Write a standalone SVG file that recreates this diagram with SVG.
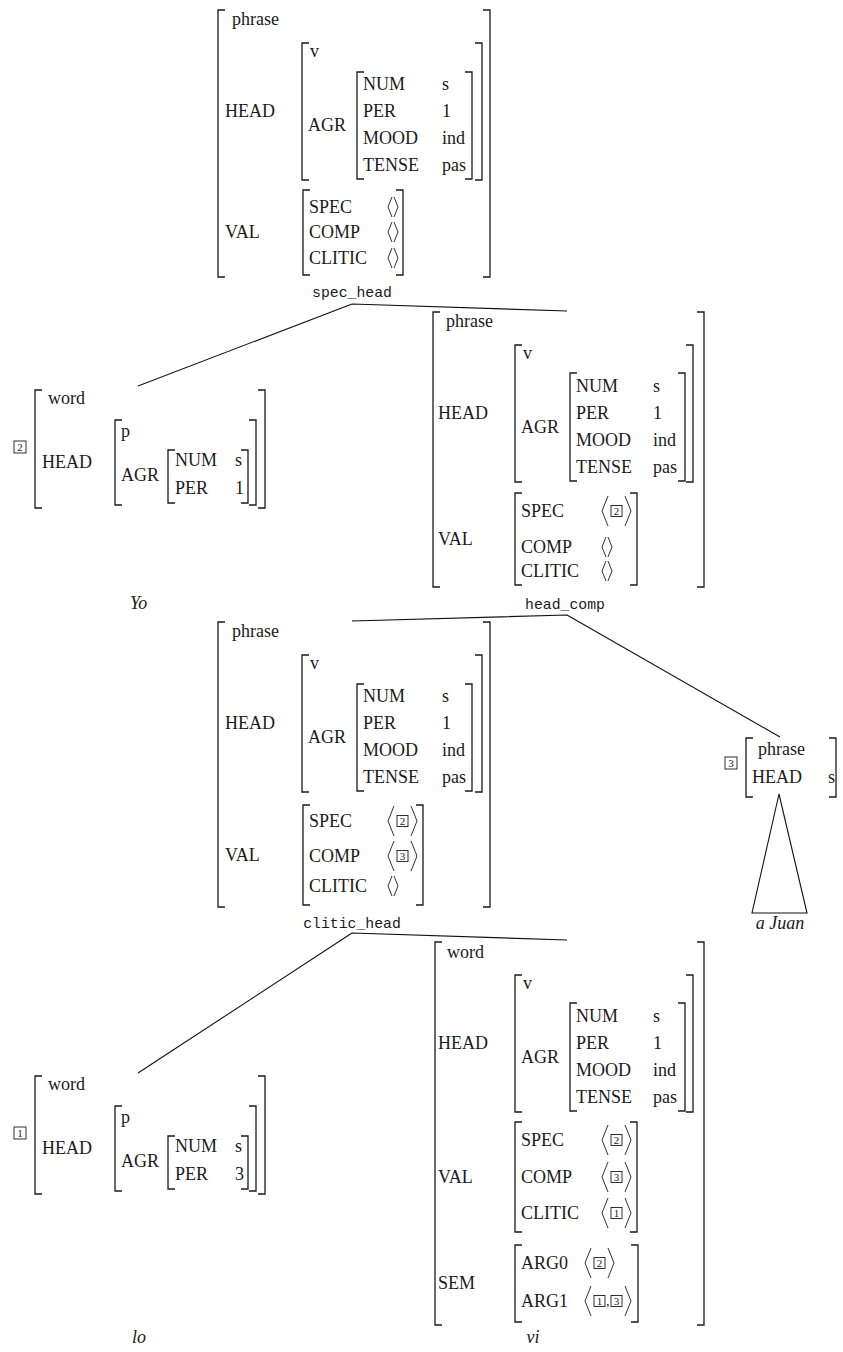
<svg xmlns="http://www.w3.org/2000/svg" xmlns:xlink="http://www.w3.org/1999/xlink" width="843" height="1352" viewBox="0 0 843 1352">
<style>
.t{font-family:'Liberation Serif','Times New Roman','DejaVu Serif',serif;font-size:18px;fill:#1a1a1a}
.it{font-family:'Liberation Serif','Times New Roman','DejaVu Serif',serif;font-size:18px;font-style:italic;fill:#1a1a1a}
.tt{font-family:'Liberation Mono','DejaVu Sans Mono',monospace;font-size:14.8px;fill:#1a1a1a;text-anchor:middle}
.d{font-family:'Liberation Serif','Times New Roman','DejaVu Serif',serif;font-size:11px;fill:#1a1a1a;text-anchor:middle}
.br{fill:none;stroke:#1a1a1a;stroke-width:1.3}
.ln{fill:none;stroke:#111;stroke-width:1.1}
.bxs{fill:none;stroke:#1a1a1a;stroke-width:0.9}
</style>
<defs>
<path id="sa" d="M4 -10 L0 0 L4 10 M6 -10 L10 0 L6 10" fill="none" stroke="#1a1a1a" stroke-width="0.9"/>
<path id="bl" d="M6 -15 L0 0 L6 15" fill="none" stroke="#1a1a1a" stroke-width="0.9"/>
<path id="brr" d="M0 -15 L6 0 L0 15" fill="none" stroke="#1a1a1a" stroke-width="0.9"/>
<rect id="bx" x="0" y="-5.5" width="11" height="11" fill="none" stroke="#1a1a1a" stroke-width="0.9"/>
</defs>

<g id="connectors">
<path class="ln" d="M352,304 L138,386 M352,304 L567,311"/>
<path class="ln" d="M567,615 L352,621 M567,615 L780,737"/>
<path class="ln" d="M352,933 L138,1073 M352,933 L567,940"/>
</g>

<g id="n_root">
<path class="br" d="M225,10H218V277H225 M483,10H490V277H483 M309,43H302V180H309 M475,43H482V180H475 M364,72H357V179H364 M465,72H472V179H465 M310,190H303V275H310 M396,190H403V275H396"/>
<text class="t" x="232" y="25">phrase</text>
<text class="t" x="225" y="117">HEAD</text>
<text class="t" x="310" y="57">v</text>
<text class="t" x="308" y="131">AGR</text>
<text class="t" x="363" y="90">NUM</text><text class="t" x="442" y="90">s</text>
<text class="t" x="363" y="117">PER</text><text class="t" x="442" y="117">1</text>
<text class="t" x="363" y="144">MOOD</text><text class="t" x="442" y="144">ind</text>
<text class="t" x="363" y="171">TENSE</text><text class="t" x="442" y="171">pas</text>
<text class="t" x="225" y="238">VAL</text>
<text class="t" x="309" y="213">SPEC</text><use xlink:href="#sa" x="388" y="207"/>
<text class="t" x="309" y="238">COMP</text><use xlink:href="#sa" x="388" y="232"/>
<text class="t" x="309" y="264">CLITIC</text><use xlink:href="#sa" x="388" y="258"/>
<text class="tt" x="352" y="297">spec_head</text>
</g>

<g id="n_yo">
<rect class="bxs" x="14" y="441" width="12" height="12"/><text class="d" x="20" y="451">2</text>
<path class="br" d="M42,390H35V508H42 M258,390H265V508H258 M122,420H115V505H122 M249,420H256V505H249 M175,450H168V503H175 M241,450H248V503H241"/>
<text class="t" x="48" y="404">word</text>
<text class="t" x="42" y="468">HEAD</text>
<text class="t" x="121" y="437">p</text>
<text class="t" x="121" y="481">AGR</text>
<text class="t" x="175" y="466">NUM</text><text class="t" x="235" y="466">s</text>
<text class="t" x="175" y="494">PER</text><text class="t" x="235" y="494">1</text>
<text class="it" x="130" y="609">Yo</text>
</g>

<g id="n_vp1">
<path class="br" d="M440,312H433V587H440 M697,312H704V587H697 M522,345H515V482H522 M686,345H693V482H686 M577,373H570V481H577 M678,373H685V481H678 M522,493H515V585H522 M630,493H637V585H630"/>
<text class="t" x="446" y="327">phrase</text>
<text class="t" x="438" y="419">HEAD</text>
<text class="t" x="523" y="359">v</text>
<text class="t" x="521" y="433">AGR</text>
<text class="t" x="576" y="392">NUM</text><text class="t" x="653" y="392">s</text>
<text class="t" x="576" y="419">PER</text><text class="t" x="653" y="419">1</text>
<text class="t" x="576" y="446">MOOD</text><text class="t" x="653" y="446">ind</text>
<text class="t" x="576" y="473">TENSE</text><text class="t" x="653" y="473">pas</text>
<text class="t" x="438" y="545">VAL</text>
<text class="t" x="521" y="517">SPEC</text>
<use xlink:href="#bl" x="602" y="511"/><use xlink:href="#bx" x="611" y="511"/><text class="d" x="616.5" y="515">2</text><use xlink:href="#brr" x="625" y="511"/>
<text class="t" x="521" y="553">COMP</text><use xlink:href="#sa" x="602" y="547"/>
<text class="t" x="521" y="577">CLITIC</text><use xlink:href="#sa" x="602" y="571"/>
<text class="tt" x="565" y="609">head_comp</text>
</g>

<g id="n_vp2">
<path class="br" d="M225,622H218V907H225 M483,622H490V907H483 M309,655H302V792H309 M475,655H482V792H475 M364,684H357V791H364 M465,684H472V791H465 M310,805H303V905H310 M416,805H423V905H416"/>
<text class="t" x="232" y="637">phrase</text>
<text class="t" x="225" y="729">HEAD</text>
<text class="t" x="310" y="669">v</text>
<text class="t" x="308" y="743">AGR</text>
<text class="t" x="363" y="702">NUM</text><text class="t" x="442" y="702">s</text>
<text class="t" x="363" y="729">PER</text><text class="t" x="442" y="729">1</text>
<text class="t" x="363" y="756">MOOD</text><text class="t" x="442" y="756">ind</text>
<text class="t" x="363" y="783">TENSE</text><text class="t" x="442" y="783">pas</text>
<text class="t" x="225" y="861">VAL</text>
<text class="t" x="309" y="827">SPEC</text>
<use xlink:href="#bl" x="388" y="821"/><use xlink:href="#bx" x="397" y="821"/><text class="d" x="402.5" y="825">2</text><use xlink:href="#brr" x="411" y="821"/>
<text class="t" x="309" y="862">COMP</text>
<use xlink:href="#bl" x="388" y="856"/><use xlink:href="#bx" x="397" y="856"/><text class="d" x="402.5" y="860">3</text><use xlink:href="#brr" x="411" y="856"/>
<text class="t" x="309" y="892">CLITIC</text><use xlink:href="#sa" x="388" y="886"/>
<text class="tt" x="352" y="928">clitic_head</text>
</g>

<g id="n_ajuan">
<rect class="bxs" x="725" y="757" width="12" height="12"/><text class="d" x="731" y="767">3</text>
<path class="br" d="M753,738H746V797H753 M829,738H836V797H829"/>
<text class="t" x="758" y="755">phrase</text>
<text class="t" x="752" y="783">HEAD</text>
<text class="t" x="828" y="783">s</text>
<path class="ln" d="M779,794 L752,913 L807,913 Z"/>
<text class="it" x="780" y="929" text-anchor="middle">a Juan</text>
</g>

<g id="n_lo">
<rect class="bxs" x="14" y="1127" width="12" height="12"/><text class="d" x="20" y="1137">1</text>
<path class="br" d="M42,1076H35V1194H42 M258,1076H265V1194H258 M122,1106H115V1191H122 M249,1106H256V1191H249 M175,1136H168V1189H175 M241,1136H248V1189H241"/>
<text class="t" x="48" y="1090">word</text>
<text class="t" x="42" y="1154">HEAD</text>
<text class="t" x="121" y="1123">p</text>
<text class="t" x="121" y="1167">AGR</text>
<text class="t" x="175" y="1152">NUM</text><text class="t" x="235" y="1152">s</text>
<text class="t" x="175" y="1180">PER</text><text class="t" x="235" y="1180">3</text>
<text class="it" x="132" y="1343">lo</text>
</g>

<g id="n_vi">
<path class="br" d="M442,942H435V1325H442 M697,942H704V1325H697 M522,975H515V1112H522 M686,975H693V1112H686 M577,1003H570V1111H577 M678,1003H685V1111H678 M522,1122H515V1232H522 M630,1122H637V1232H630 M522,1245H515V1322H522 M631,1245H638V1322H631"/>
<text class="t" x="447" y="958">word</text>
<text class="t" x="438" y="1049">HEAD</text>
<text class="t" x="523" y="989">v</text>
<text class="t" x="521" y="1063">AGR</text>
<text class="t" x="576" y="1022">NUM</text><text class="t" x="653" y="1022">s</text>
<text class="t" x="576" y="1049">PER</text><text class="t" x="653" y="1049">1</text>
<text class="t" x="576" y="1076">MOOD</text><text class="t" x="653" y="1076">ind</text>
<text class="t" x="576" y="1103">TENSE</text><text class="t" x="653" y="1103">pas</text>
<text class="t" x="438" y="1183">VAL</text>
<text class="t" x="521" y="1146">SPEC</text>
<use xlink:href="#bl" x="602" y="1140"/><use xlink:href="#bx" x="611" y="1140"/><text class="d" x="616.5" y="1144">2</text><use xlink:href="#brr" x="625" y="1140"/>
<text class="t" x="521" y="1183">COMP</text>
<use xlink:href="#bl" x="602" y="1177"/><use xlink:href="#bx" x="611" y="1177"/><text class="d" x="616.5" y="1181">3</text><use xlink:href="#brr" x="625" y="1177"/>
<text class="t" x="521" y="1219">CLITIC</text>
<use xlink:href="#bl" x="602" y="1213"/><use xlink:href="#bx" x="611" y="1213"/><text class="d" x="616.5" y="1217">1</text><use xlink:href="#brr" x="625" y="1213"/>
<text class="t" x="438" y="1289">SEM</text>
<text class="t" x="521" y="1269">ARG0</text>
<use xlink:href="#bl" x="585" y="1263"/><use xlink:href="#bx" x="594" y="1263"/><text class="d" x="599.5" y="1267">2</text><use xlink:href="#brr" x="608" y="1263"/>
<text class="t" x="521" y="1307">ARG1</text>
<use xlink:href="#bl" x="585" y="1301"/><use xlink:href="#bx" x="594" y="1301"/><text class="d" x="599.5" y="1305">1</text><text class="t" x="606" y="1306" style="font-size:14px">,</text><use xlink:href="#bx" x="611" y="1301"/><text class="d" x="616.5" y="1305">3</text><use xlink:href="#brr" x="625" y="1301"/>
<text class="it" x="533" y="1343" text-anchor="middle">vi</text>
</g>
</svg>
